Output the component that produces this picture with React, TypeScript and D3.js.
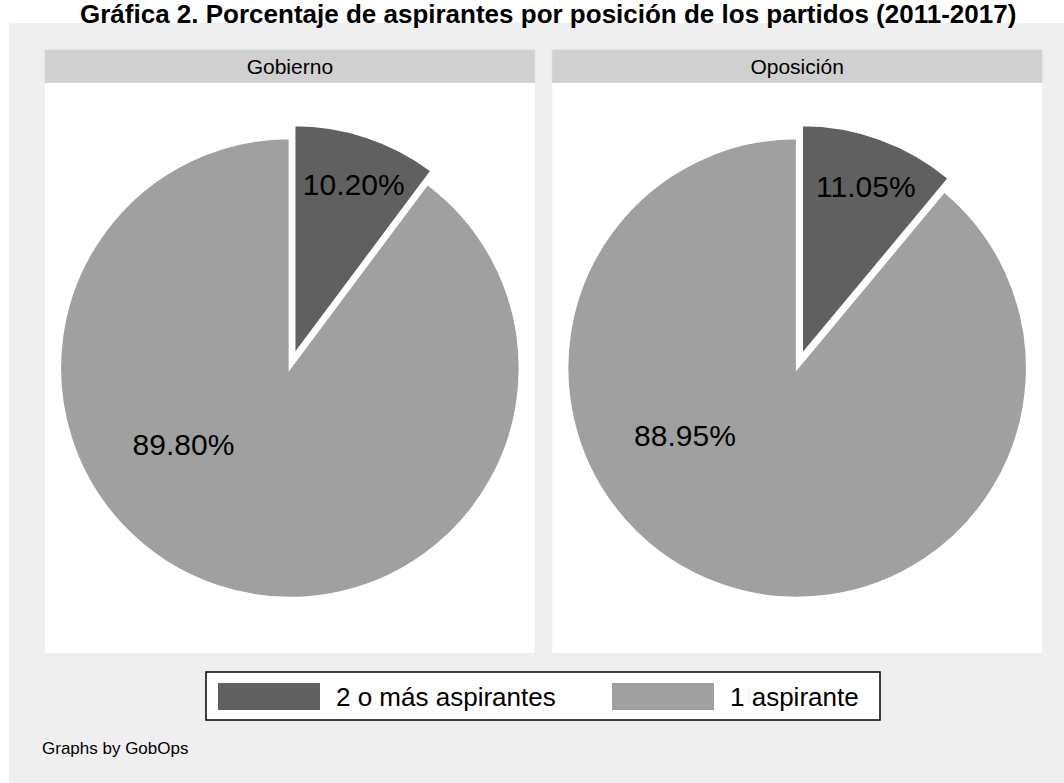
import React from "react";
import * as d3 from "d3";

const title = "Gráfica 2. Porcentaje de aspirantes por posición de los partidos (2011-2017)";
const panels = ["Gobierno", "Oposición"];
const categories = ["2 o más aspirantes", "1 aspirante"];
const gobiernoValues = [10.2, 89.8];
const oposicionValues = [11.05, 88.95];
const note = "Graphs by GobOps";

const colors = ["#606060", "#a0a0a0"];
const W = 1064;
const H = 783;
const FONT = "'Liberation Sans', Arial, sans-serif";

const panelX = d3.scaleBand<string>().domain(panels).range([45, 1042]).paddingInner(0.0345).paddingOuter(0);

function Pie({ name, values }: { name: string; values: number[] }) {
  const x0 = panelX(name)!;
  const bw = panelX.bandwidth();
  const headerTop = 50;
  const headerBot = 83;
  const bodyBot = 653;
  const cx = x0 + bw / 2;
  const cy = (headerBot + bodyBot) / 2;
  const r = 230;
  const explode = 13.7;
  const pie = d3.pie<number>().sort(null).value((d) => d).startAngle(0).endAngle(2 * Math.PI);
  const arcs = pie(values);
  const arc = d3.arc<d3.PieArcDatum<number>>().innerRadius(0).outerRadius(r);
  const total = d3.sum(values);
  const fmt = d3.format(".2f");
  return (
    <g>
      <rect x={x0} y={headerTop} width={bw} height={headerBot - headerTop} fill="#d0d0d0" stroke="#c9dbe2" strokeWidth={1} />
      <text x={cx} y={(headerTop + headerBot) / 2} textAnchor="middle" dominantBaseline="central" fontFamily={FONT} fontSize={21} fill="#000">
        {name}
      </text>
      <rect x={x0} y={headerBot} width={bw} height={bodyBot - headerBot} fill="#ffffff" />
      {arcs.map((a, i) => {
        const mid = (a.startAngle + a.endAngle) / 2;
        const off = i === 0 ? explode : 0;
        const ox = cx + Math.sin(mid) * off;
        const oy = cy - Math.cos(mid) * off;
        return (
          <path key={i} d={arc(a)!} transform={`translate(${ox},${oy})`} fill={colors[i]} stroke="#ffffff" strokeWidth={2.5} strokeLinejoin="miter" />
        );
      })}
      {arcs.map((a, i) => {
        const mid = (a.startAngle + a.endAngle) / 2;
        const off = i === 0 ? explode : 0;
        const ox = cx + Math.sin(mid) * off;
        const oy = cy - Math.cos(mid) * off;
        const la = a.startAngle + mid;
        const frac = i === 0 ? 0.78 : 0.58;
        const lx = ox + Math.sin(la) * r * frac + 3;
        const ly = oy - Math.cos(la) * r * frac;
        return (
          <text key={"l" + i} x={lx} y={ly} textAnchor="middle" dominantBaseline="central" fontFamily={FONT} fontSize={30} fill="#000">
            {fmt((a.data / total) * 100)}%
          </text>
        );
      })}
    </g>
  );
}

export default function App() {
  const legX = 206;
  const legY = 672;
  const legW = 674;
  const legH = 48;
  const itemX = d3.scaleOrdinal<string, number>().domain(categories).range([218, 612]);
  return (
    <svg width={W} height={H} viewBox={`0 0 ${W} ${H}`} style={{ position: "absolute", left: 0, top: 0, background: "#fff" }}>
      <rect x={0} y={0} width={W} height={H} fill="#ffffff" />
      <rect x={9} y={23} width={W - 9} height={H - 23} fill="#efefef" />
      <text x={80} y={23} fontFamily={FONT} fontWeight="bold" fontSize={26} fill="#000">
        {title}
      </text>
      <Pie name={panels[0]} values={gobiernoValues} />
      <Pie name={panels[1]} values={oposicionValues} />
      <rect x={legX} y={legY} width={legW} height={legH} fill="#ffffff" stroke="#000" strokeWidth={1.5} />
      {categories.map((c, i) => (
        <g key={c}>
          <rect x={itemX(c)} y={legY + 11} width={102} height={27} fill={colors[i]} />
          <text x={itemX(c) + 102 + 16} y={legY + legH / 2 + 1} dominantBaseline="central" fontFamily={FONT} fontSize={26} fill="#000">
            {c}
          </text>
        </g>
      ))}
      <text x={42} y={748} dominantBaseline="central" fontFamily={FONT} fontSize={17} fill="#000">
        {note}
      </text>
    </svg>
  );
}
